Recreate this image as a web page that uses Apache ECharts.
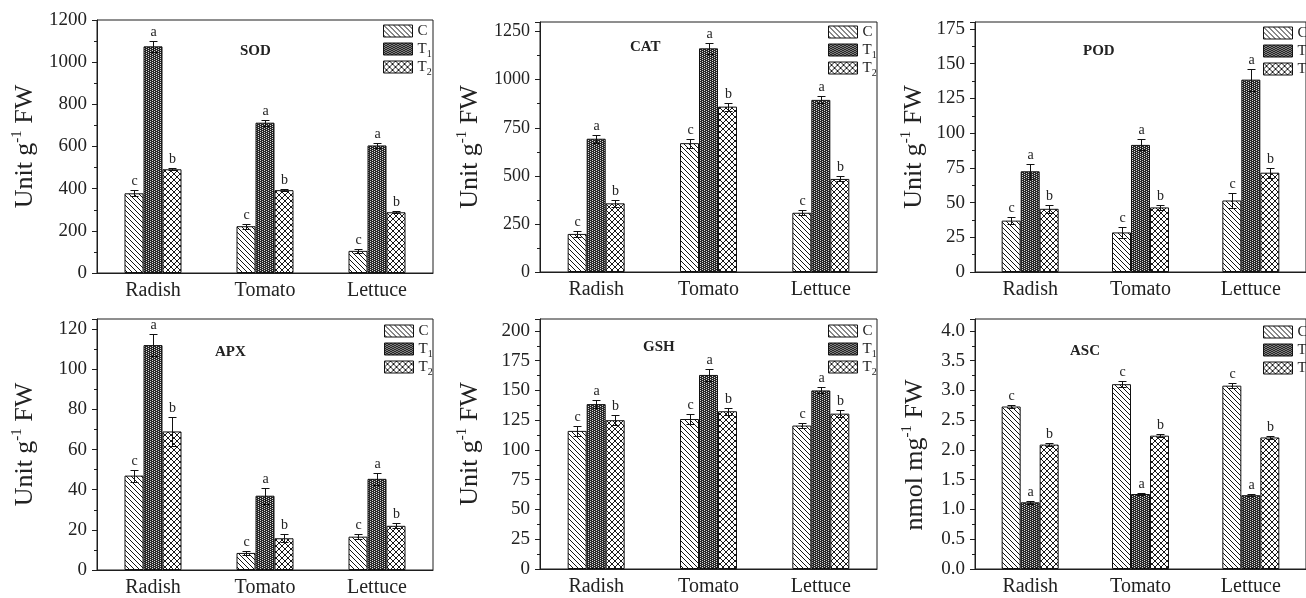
<!DOCTYPE html>
<html><head><meta charset="utf-8">
<script src="https://cdn.jsdelivr.net/npm/echarts@6/dist/echarts.min.js"></script>
<style>html,body{margin:0;padding:0;background:#fff;}#c{width:1306px;height:598px;}</style>
</head><body><div id="c"></div>
<script>
// ---------- DATA ----------
const categories = ['Radish', 'Tomato', 'Lettuce'];
const treatments = ['C', 'T1', 'T2'];
const letters = ['c', 'a', 'b'];
const panelTitles = ['SOD', 'CAT', 'POD', 'APX', 'GSH', 'ASC'];
const yNames = ['Unit g{sup|-1} FW', 'Unit g{sup|-1} FW', 'Unit g{sup|-1} FW',
                'Unit g{sup|-1} FW', 'Unit g{sup|-1} FW', 'nmol mg{sup|-1} FW'];
const yMax = [1200, 1300, 180, 125, 210, 4.2];
const yInterval = [200, 250, 25, 20, 25, 0.5];

const sodC = [378, 222, 105],    sodCErr = [15, 12, 8];
const sodT1 = [1075, 713, 605],  sodT1Err = [25, 15, 10];
const sodT2 = [492, 393, 288],   sodT2Err = [5, 6, 4];

const catC = [198, 670, 308],    catCErr = [14, 24, 12];
const catT1 = [693, 1163, 895],  catT1Err = [22, 30, 18];
const catT2 = [357, 860, 484],   catT2Err = [17, 21, 13];

const podC = [37, 28.5, 51.5],     podCErr = [2.5, 4, 5.5];
const podT1 = [72.5, 91.5, 138.5], podT1Err = [5.5, 4, 8];
const podT2 = [45.5, 46.5, 71.5],  podT2Err = [3, 2, 3.5];

const apxC = [47, 8.5, 16.6],    apxCErr = [3, 1, 1.2];
const apxT1 = [112, 37, 45.4],   apxT1Err = [5.5, 4, 3];
const apxT2 = [69, 15.8, 22],    apxT2Err = [7, 2, 1.2];

const gshC = [116, 126, 120.5],    gshCErr = [4.5, 4, 2];
const gshT1 = [138.5, 163, 150],   gshT1Err = [3.5, 5, 2.5];
const gshT2 = [125, 132.5, 130.5], gshT2Err = [4, 3, 3];

const ascC = [2.73, 3.105, 3.08],  ascCErr = [0.03, 0.05, 0.04];
const ascT1 = [1.12, 1.26, 1.24],  ascT1Err = [0.02, 0.02, 0.02];
const ascT2 = [2.09, 2.24, 2.21],  ascT2Err = [0.03, 0.02, 0.03];

const panelValues = [[sodC, sodT1, sodT2], [catC, catT1, catT2], [podC, podT1, podT2],
                     [apxC, apxT1, apxT2], [gshC, gshT1, gshT2], [ascC, ascT1, ascT2]];
const panelErrors = [[sodCErr, sodT1Err, sodT2Err], [catCErr, catT1Err, catT2Err], [podCErr, podT1Err, podT2Err],
                     [apxCErr, apxT1Err, apxT2Err], [gshCErr, gshT1Err, gshT2Err], [ascCErr, ascT1Err, ascT2Err]];

// ---------- LAYOUT / STYLE ----------
const grids = [
  {left: 97, top: 20, width: 336, height: 253},
  {left: 540, top: 22, width: 337, height: 250},
  {left: 975, top: 22, width: 336, height: 250},
  {left: 97, top: 319, width: 336, height: 251},
  {left: 540, top: 319, width: 337, height: 250},
  {left: 975, top: 319, width: 336, height: 250}
];
const legendPos = [[383, 21], [828, 22], [1263, 23], [384, 321], [828, 321], [1263, 322]];
const titlePos = [[240, 44], [630, 40], [1083, 44], [215, 345], [643, 340], [1070, 344]];
const nameGaps = [57, 55, 46, 57, 55, 45];
const namePads = [[0, 0, 0, 0], [0, 0, 0, 0], [0, 0, 0, 0], [0, 0, 0, 0], [0, 0, 0, 0], [0, 22, 0, 0]];
const yLabelSize = [19, 18, 19, 19, 19, 19];
const FONT = '"Liberation Serif", "Times New Roman", serif';
const INK = '#1e1e1e';
const BAR_W = 19;

function makeTile(w, h, fn) {
  const c = document.createElement('canvas');
  c.width = w; c.height = h;
  const ctx = c.getContext('2d');
  const img = ctx.createImageData(w, h);
  for (let y = 0; y < h; y++) for (let x = 0; x < w; x++) {
    const v = fn(x, y), k = (y * w + x) * 4;
    img.data[k] = img.data[k + 1] = img.data[k + 2] = v; img.data[k + 3] = 255;
  }
  ctx.putImageData(img, 0, 0);
  return c;
}
const tileC = makeTile(5, 5, (x, y) => ((x - y + 5) % 5 === 0 ? 20 : 255));
const tileT1 = makeTile(4, 2, (x, y) => ((y === 0 && x === 0) || (y === 1 && x === 2) ? 215 : 40));
const tileT2 = makeTile(6, 6, (x, y) => (((x - y + 6) % 6 === 0) || ((x + y) % 6 === 5) ? 25 : 255));
const fills = [tileC, tileT1, tileT2].map(t => ({image: t, repeat: 'repeat'}));

function errRenderer(si, letter) {
  return function (params, api) {
    const ci = api.value(0), v = api.value(1), e = api.value(2);
    const c = api.coord([ci, v]);
    const x = Math.round(c[0] + (si - 1) * BAR_W) + 0.5;
    const yt = Math.round(api.coord([ci, v + e])[1]) + 0.5;
    const yb = Math.round(api.coord([ci, v - e])[1]) + 0.5;
    const hw = 4;
    const ls = {stroke: '#111', lineWidth: 1};
    return {type: 'group', children: [
      {type: 'line', shape: {x1: x, y1: yt, x2: x, y2: yb}, style: ls},
      {type: 'line', shape: {x1: x - hw, y1: yt, x2: x + hw, y2: yt}, style: ls},
      {type: 'line', shape: {x1: x - hw, y1: yb, x2: x + hw, y2: yb}, style: ls},
      {type: 'text', style: {text: letter, x: x, y: yt - 2, textAlign: 'center', textVerticalAlign: 'bottom',
        align: 'center', verticalAlign: 'bottom', font: '14px ' + FONT, fill: '#222'}}
    ]};
  };
}

const option = {
  animation: false,
  backgroundColor: '#fff',
  title: [], grid: [], xAxis: [], yAxis: [], legend: [], series: []
};

grids.forEach((g, i) => {
  option.grid.push(Object.assign({show: true, borderColor: INK, borderWidth: 1, backgroundColor: 'transparent'}, g));
  option.title.push({text: panelTitles[i], left: titlePos[i][0], top: titlePos[i][1], padding: 0,
    textStyle: {fontSize: 15, fontWeight: 'bold', fontFamily: FONT, color: '#222'}});
  option.xAxis.push({type: 'category', gridIndex: i, data: categories, position: 'bottom',
    axisLine: {lineStyle: {color: INK, width: 1}},
    axisTick: {alignWithLabel: true, length: 4, lineStyle: {color: INK}},
    axisLabel: {fontSize: 20, fontFamily: FONT, color: '#222', margin: 8}});
  const ratio = yMax[i] / yInterval[i];
  const exact = Math.abs(ratio - Math.round(ratio)) < 1e-9;
  option.yAxis.push({type: 'value', gridIndex: i, min: 0, max: yMax[i], interval: yInterval[i],
    axisLine: {show: true, lineStyle: {color: INK, width: 1}},
    axisTick: {show: true, length: 5, lineStyle: {color: INK}},
    minorTick: {show: true, splitNumber: 2, length: 3, lineStyle: {color: INK}},
    splitLine: {show: false},
    axisLabel: {fontSize: yLabelSize[i], fontFamily: FONT, color: '#222', margin: 10, showMaxLabel: exact,
      formatter: v => (yInterval[i] < 1 ? v.toFixed(1) : String(v))},
    name: yNames[i], nameLocation: 'middle', nameGap: nameGaps[i],
    nameTextStyle: {fontSize: 26, fontFamily: FONT, color: '#222', lineHeight: 30, padding: namePads[i],
      rich: {sup: {fontSize: 15, fontFamily: FONT, color: '#222', verticalAlign: 'top', lineHeight: 15}}}});
  option.legend.push({data: treatments, orient: 'vertical', left: legendPos[i][0], top: legendPos[i][1],
    padding: 0, itemWidth: 29, itemHeight: 12, itemGap: -2, icon: 'rect', selectedMode: false,
    itemStyle: {borderColor: '#111', borderWidth: 1},
    formatter: n => (n === 'C' ? 'C' : 'T{s|' + n.slice(1) + '}'),
    textStyle: {fontSize: 15, fontFamily: FONT, color: '#222', lineHeight: 20,
      rich: {s: {fontSize: 10, fontFamily: FONT, color: '#222', verticalAlign: 'bottom', lineHeight: 10}}}});
  treatments.forEach((t, si) => {
    option.series.push({type: 'bar', name: t, xAxisIndex: i, yAxisIndex: i, data: panelValues[i][si],
      barWidth: BAR_W, barGap: '0%',
      itemStyle: {color: fills[si], borderColor: '#111', borderWidth: 1}});
  });
  treatments.forEach((t, si) => {
    option.series.push({type: 'custom', xAxisIndex: i, yAxisIndex: i, z: 5,
      renderItem: errRenderer(si, letters[si]),
      data: categories.map((_, k) => [k, panelValues[i][si][k], panelErrors[i][si][k]])});
  });
});

// extra x-axes for boundary ticks
grids.forEach((g, i) => {
  option.xAxis.push({type: 'category', gridIndex: i, data: categories, position: 'bottom',
    axisLine: {show: false}, axisLabel: {show: false},
    axisTick: {alignWithLabel: false, length: 3, lineStyle: {color: INK}}});
});

const chart = echarts.init(document.getElementById('c'), null, {renderer: 'canvas'});
chart.setOption(option);
</script></body></html>
